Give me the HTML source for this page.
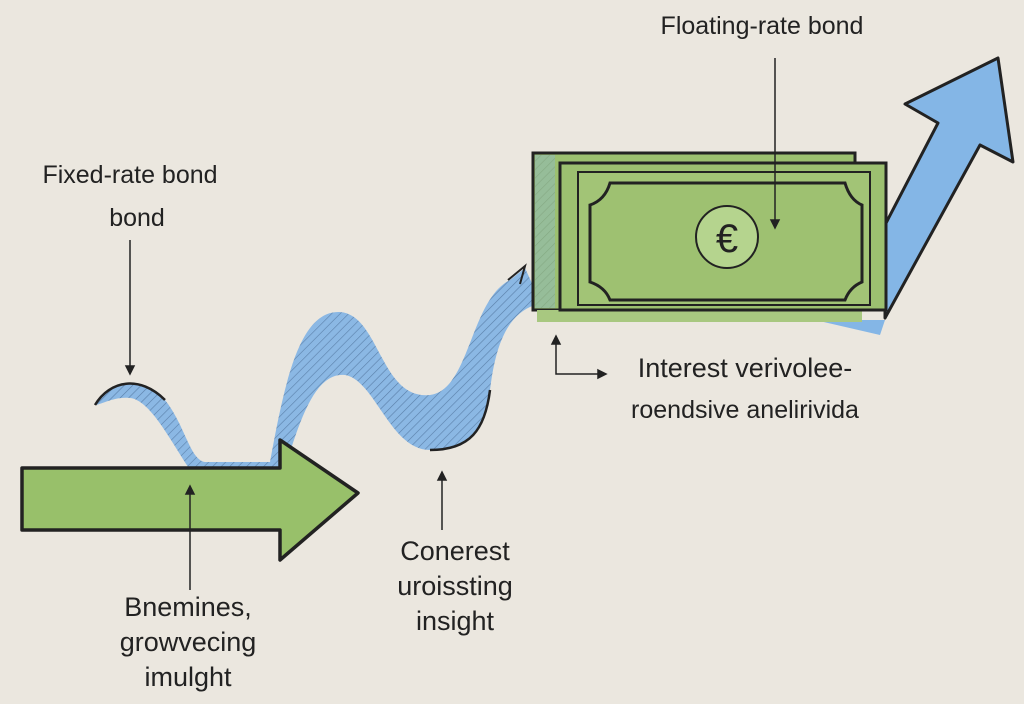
<!DOCTYPE html>
<html><head><style>
body{margin:0;background:#ebe7df;width:1024px;height:704px;overflow:hidden}
svg{display:block}
text{font-family:"Liberation Sans",sans-serif;fill:#222}
</style></head><body>
<svg width="1024" height="704" viewBox="0 0 1024 704">
<defs>
<pattern id="h" width="6" height="6" patternUnits="userSpaceOnUse" patternTransform="rotate(45)">
<rect width="6" height="6" fill="#8bb8e4"/><line x1="0" y1="0" x2="0" y2="6" stroke="#5a7fa8" stroke-width="1.2"/></pattern>
</defs>
<!-- blue wave -->
<path d="M95,405 C110,380 140,375 165,400 C185,425 190,460 205,462 L270,462 C285,380 300,310 340,312 C380,315 380,400 430,395 C470,390 470,300 510,280 L525,268 L535,290 L535,305 C505,315 495,350 490,390 C485,430 470,450 430,450 C390,450 375,380 345,375 C315,372 300,420 285,468 L190,470 C170,440 150,400 130,398 C115,396 100,405 95,405 Z" fill="url(#h)"/>
<path d="M95,405 C110,380 140,375 165,400" fill="none" stroke="#222" stroke-width="2.5"/>
<path d="M490,390 C485,430 470,450 430,450" fill="none" stroke="#222" stroke-width="2.5"/>
<path d="M508,280 L525,266 L520,284" fill="none" stroke="#222" stroke-width="2"/>
<!-- green arrow -->
<path d="M22,468 L280,468 L280,440 L358,493 L280,560 L280,530 L22,530 Z" fill="#98c06a" stroke="#222" stroke-width="3.5" stroke-linejoin="round"/>
<!-- blue arrow right -->
<path d="M885,315 L885,225 L938,123 L905,104 L998,58 L1013,162 L980,145 L885,318 Z" fill="#84b6e6" stroke="#222" stroke-width="3" stroke-linejoin="round"/>
<path d="M815,320 L885,320 L880,335 Z" fill="#84b6e6"/>
<!-- bill -->
<rect x="533" y="153" width="322" height="157" fill="#9cc070" stroke="#222" stroke-width="3"/>
<rect x="535" y="155" width="20" height="153" fill="url(#h)" opacity="0.35"/>
<rect x="537" y="310" width="325" height="12" fill="#a8c880"/>
<rect x="560" y="163" width="326" height="147" fill="#9cc070" stroke="#222" stroke-width="3"/>
<rect x="578" y="172" width="292" height="133" fill="#a2c476" stroke="#222" stroke-width="2"/>
<path d="M610,183 L845,183 Q850,200 862,205 L862,282 Q850,287 845,300 L610,300 Q605,287 590,282 L590,205 Q605,200 610,183 Z" fill="#9ec171" stroke="#222" stroke-width="3"/>
<circle cx="727" cy="237" r="31" fill="#b5d48e" stroke="#222" stroke-width="2"/>
<text x="727" y="252" text-anchor="middle" font-size="40">€</text>
<!-- connectors -->
<g stroke="#222" stroke-width="1.5" fill="#222">
<line x1="775" y1="58" x2="775" y2="222"/><path d="M771,220 L779,220 L775,228 Z"/>
<line x1="130" y1="240" x2="130" y2="368"/><path d="M126,366 L134,366 L130,374 Z"/>
<line x1="190" y1="492" x2="190" y2="590"/><path d="M186,494 L194,494 L190,486 Z" />
<line x1="442" y1="478" x2="442" y2="530"/><path d="M438,480 L446,480 L442,472 Z"/>
<path d="M556,338 L556,374 L600,374" fill="none"/><path d="M598,370 L606,374 L598,378 Z"/>
<path d="M552,344 L556,336 L560,344 Z"/>
</g>
<!-- texts -->
<text x="762" y="34" text-anchor="middle" font-size="25">Floating-rate bond</text>
<text x="130" y="183" text-anchor="middle" font-size="25">Fixed-rate bond</text>
<text x="137" y="226" text-anchor="middle" font-size="25">bond</text>
<text x="745" y="377" text-anchor="middle" font-size="27">Interest verivolee-</text>
<text x="745" y="418" text-anchor="middle" font-size="25">roendsive anelirivida</text>
<text x="455" y="560" text-anchor="middle" font-size="27">Conerest</text>
<text x="455" y="595" text-anchor="middle" font-size="27">uroissting</text>
<text x="455" y="630" text-anchor="middle" font-size="27">insight</text>
<text x="188" y="616" text-anchor="middle" font-size="27">Bnemines,</text>
<text x="188" y="651" text-anchor="middle" font-size="27">growvecing</text>
<text x="188" y="686" text-anchor="middle" font-size="27">imulght</text>
</svg>
</body></html>
